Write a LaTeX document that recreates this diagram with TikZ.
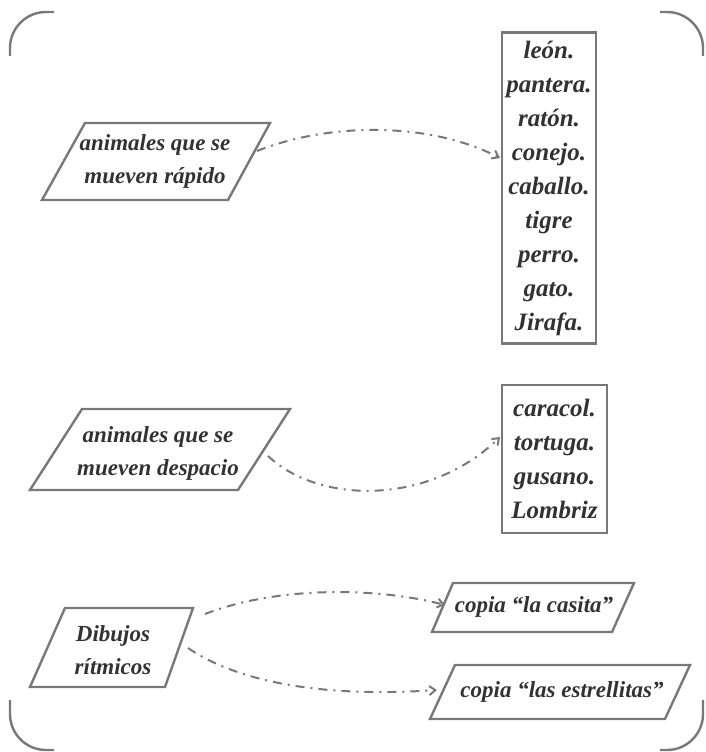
\documentclass[tikz,border=0pt]{standalone}
\usepackage{fontspec}
\setmainfont{Liberation Serif}
\usetikzlibrary{arrows.meta}
\definecolor{ink}{RGB}{50,50,50}
\definecolor{edge}{RGB}{120,120,120}
\tikzset{
  shapeline/.style={draw=edge, line width=2.4pt, line join=miter},
  lbl/.style={text=ink, font=\fontsize{23}{33}\selectfont\bfseries\itshape, align=center, inner sep=0pt},
  listbox/.style={draw=edge, line width=2.4pt, inner sep=0pt, text=ink,
    font=\fontsize{25}{34}\selectfont\bfseries\itshape, align=center},
  link/.style={draw=edge, line width=2pt, dash pattern=on 9pt off 6pt on 2pt off 6pt,
    -{Straight Barb[length=6pt,width=9pt,line width=2pt]}},
  corner/.style={draw=edge, line width=2.4pt, rounded corners=36pt}
}
\begin{document}
\begin{tikzpicture}[x=1pt,y=-1pt]
\useasboundingbox (0,0) rectangle (705,752);

% outer frame corners
\draw[corner] (10,56) -- (10,12) -- (54,12);
\draw[corner] (660,12) -- (703,12) -- (703,56);
\draw[corner] (10,700) -- (10,750) -- (54,750);
\draw[corner] (660,750) -- (703,750) -- (703,700);

% first group: fast animals
\draw[shapeline] (85,123) -- (270,123) -- (228,200) -- (42,200) -- cycle;
\node[lbl] (fast) at (155,161) {animales que se\\mueven rápido};
\node[listbox, minimum width=94pt, minimum height=311pt] (fastlist) at (549,188)
  {león.\\pantera.\\ratón.\\conejo.\\caballo.\\tigre\\perro.\\gato.\\Jirafa.};
\coordinate (fastout) at (257,151);
\coordinate (fastin) at (500,158);
\draw[link] (fastout) .. controls (330,122) and (430,122) .. (fastin);

% second group: slow animals
\draw[shapeline] (82,409) -- (290,409) -- (238,490) -- (30,490) -- cycle;
\node[lbl] (slow) at (158,453) {animales que se\\mueven despacio};
\node[listbox, minimum width=105pt, minimum height=148pt] (slowlist) at (554.5,459)
  {caracol.\\tortuga.\\gusano.\\Lombriz};
\coordinate (slowout) at (268,456);
\coordinate (slowin) at (500,437);
\draw[link] (slowout) .. controls (320,505) and (430,505) .. (slowin);

% third group: rhythmic drawings
\draw[shapeline] (65,608) -- (193,608) -- (165,687) -- (30,687) -- cycle;
\node[lbl] (draw) at (113,650) {Dibujos\\rítmicos};
\draw[shapeline] (453,583) -- (634,583) -- (612,632) -- (432,632) -- cycle;
\node[lbl] (house) at (534,607) {copia “la casita”};
\draw[shapeline] (455,665) -- (690,665) -- (665,719) -- (430,719) -- cycle;
\node[lbl] (stars) at (562,692) {copia “las estrellitas”};
\coordinate (drawout1) at (205,614);
\coordinate (drawout2) at (188,648);
\coordinate (housein) at (445,605);
\coordinate (starsin) at (437,690);
\draw[link] (drawout1) .. controls (280,585) and (380,588) .. (housein);
\draw[link] (drawout2) .. controls (250,690) and (350,696) .. (starsin);
\end{tikzpicture}
\end{document}
